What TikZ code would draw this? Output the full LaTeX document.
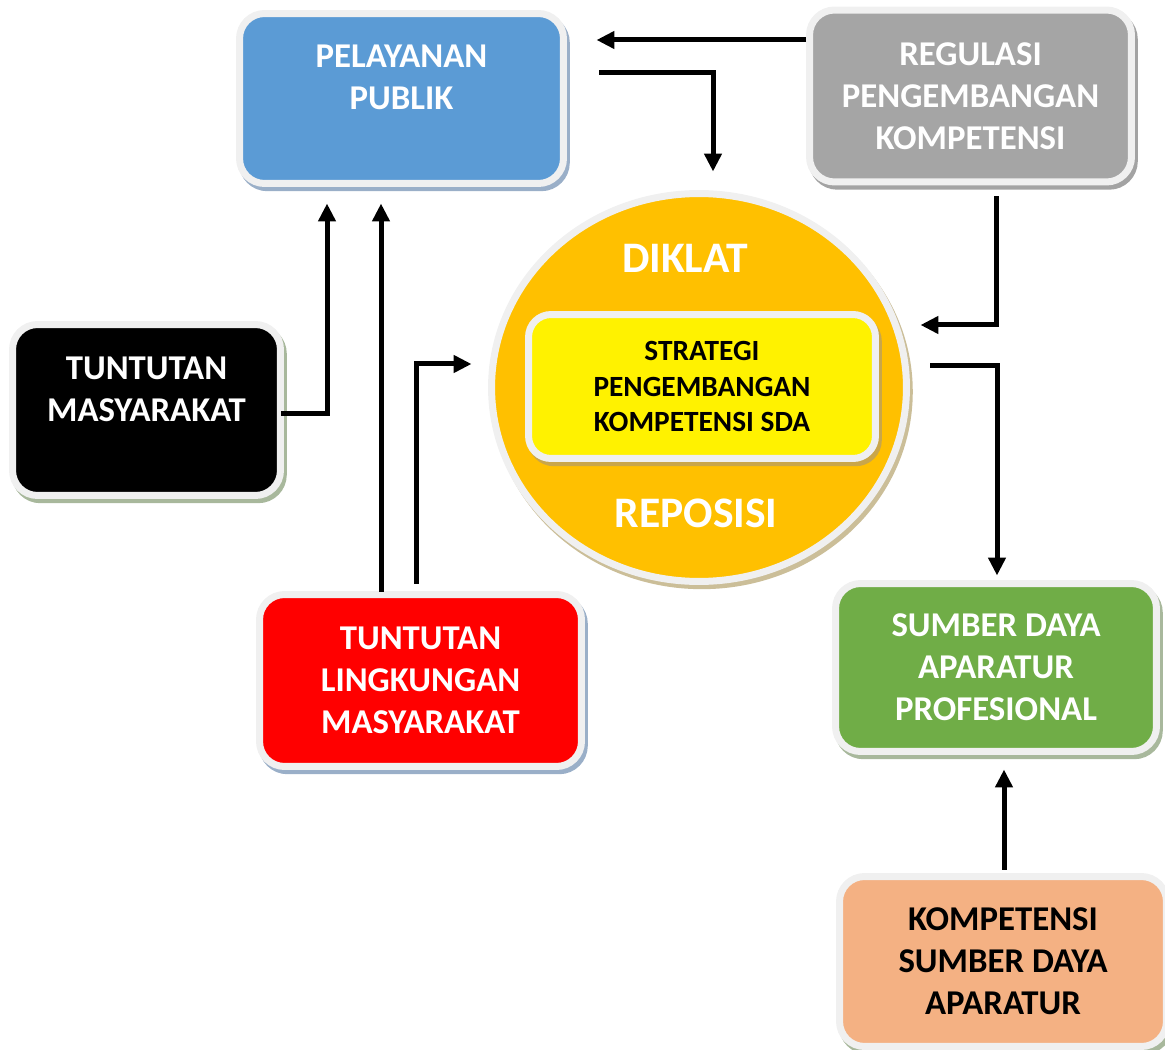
\documentclass[tikz,border=0pt]{standalone}
\usepackage{fontspec}
\setmainfont{Carlito}
\usetikzlibrary{%
    shapes.geometric,shadows,%
    arrows.meta,calc
}
\definecolor{rim}{HTML}{F0F0F0}
\definecolor{pelblue}{HTML}{5B9BD5}
\definecolor{reggray}{HTML}{A5A5A5}
\definecolor{sdagreen}{HTML}{70AD47}
\definecolor{kompsalmon}{HTML}{F4B183}
\definecolor{dikorange}{HTML}{FFC000}
\definecolor{shblue}{HTML}{9AAFC8}
\definecolor{shgray}{HTML}{A3A3A3}
\definecolor{shgreen}{HTML}{A8B89C}
\definecolor{shtan}{HTML}{CBBE98}
\definecolor{shgold}{HTML}{C9A64A}

\begin{document}
\begin{tikzpicture}[x=0.02cm,y=-0.02cm,
 box/.style={draw=rim,line width=0.14cm,rounded corners=0.5cm,inner sep=0pt,
        align=center,text=white,font=\bfseries\fontsize{19.8}{23.8}\selectfont,
        drop shadow={shadow xshift=1.6pt,shadow yshift=-2.4pt,fill=#1,draw=#1,
                     line width=0.14cm,opacity=1}},
 big/.style={text=white,font=\bfseries\fontsize{24.8}{28}\selectfont,anchor=base},
 arr/.style={line width=0.1cm,-{Triangle[width=0.34cm,length=0.36cm]}}]

\useasboundingbox (0,0) rectangle (1165,1050);
\clip (0,0) rectangle (1165,1050);

\node[box=shblue,fill=pelblue,minimum width=6.48cm,minimum height=3.4cm]
      (pel) at (401.5,98.5) {PELAYANAN\\PUBLIK\\\mbox{}};
\node[box=shgray,fill=reggray,minimum width=6.44cm,minimum height=3.44cm]
      (reg) at (970.5,96) {REGULASI\\PENGEMBANGAN\\KOMPETENSI};
\node[box=shgreen,fill=black,minimum width=5.36cm,minimum height=3.42cm]
      (tms) at (146.5,410) {TUNTUTAN\\MASYARAKAT\\\mbox{}};
\node[box=shblue,fill=red,minimum width=6.44cm,minimum height=3.44cm]
      (tlm) at (420.5,680.5) {TUNTUTAN\\LINGKUNGAN\\MASYARAKAT};
\node[box=shgreen,fill=sdagreen,minimum width=6.42cm,minimum height=3.36cm]
      (sda) at (996,667.5) {SUMBER DAYA\\APARATUR\\PROFESIONAL};
\node[box=shgreen,fill=kompsalmon,text=black,minimum width=6.54cm,minimum height=3.4cm]
      (ksda) at (1003,961.5) {KOMPETENSI\\SUMBER DAYA\\APARATUR};

\node[ellipse,draw=rim,line width=0.14cm,fill=dikorange,inner sep=0pt,
      minimum width=8.3cm,minimum height=7.76cm,
      drop shadow={shadow xshift=1.6pt,shadow yshift=-2.4pt,fill=shtan,
                   draw=shtan,line width=0.14cm,opacity=1}]
      (diklat) at (699,387.5) {};
\node[big] (dik) at (685,273) {DIKLAT};
\node[big] (repo) at (696,527) {REPOSISI};
\node[box=shgold,fill=yellow,text=black,rounded corners=0.45cm,
      font=\bfseries\fontsize{16.7}{20.4}\selectfont,
      minimum width=6.94cm,minimum height=2.88cm]
      (strat) at (702,386.5) {STRATEGI\\PENGEMBANGAN\\KOMPETENSI SDA};

\draw[arr] ($(reg.west)+(0,-56)$) -- ($(pel.east)+(29.5,-58.5)$);
\draw[arr] ($(pel.east)+(32.5,-25.5)$) -| ($(diklat.north)+(14,-18.5)$);
\draw[arr] ($(reg.south)+(25.5,11)$) |- ($(diklat.east)+(10.5,-62.5)$);
\draw[arr] ($(diklat.east)+(20.5,-21.5)$) -| ($(sda.north)+(1,-4.5)$);
\draw[arr] ($(ksda.north)+(1,-3.5)$) -- ($(sda.south)+(8,14.5)$);
\draw[arr] ($(tms.east)+(-2.5,3)$) -| ($(pel.south)+(-74.5,16.5)$);
\draw[arr] ($(tlm.north)+(-39.5,0.5)$) -- ($(pel.south)+(-20.5,16.5)$);
\draw[arr] ($(tlm.north)+(-4.5,-7.5)$) |- ($(diklat.west)+(-16.5,-23.5)$);
\end{tikzpicture}
\end{document}
